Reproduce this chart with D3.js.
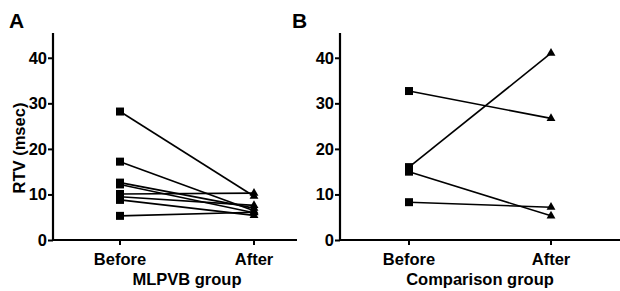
<!DOCTYPE html>
<html>
<head>
<style>
body { margin: 0; background: #fff; }
text { font-family: "Liberation Sans", Arial, sans-serif; font-weight: bold; }
.axis .domain { display: none; }
</style>
</head>
<body>
<svg width="620" height="291"></svg>
<script src="https://d3js.org/d3.v7.min.js"></script>
<script>
var phases = ["Before", "After"];
var yTicks = [0, 10, 20, 30, 40];

// MLPVB group: before -> after (msec)
var mlpvbBefore = [28.2, 17.2, 12.6, 12.2, 10.1, 9.5, 8.8, 5.3];
var mlpvbAfter  = [9.6, 6.4, 7.0, 6.0, 10.3, 7.6, 5.4, 6.1];

// Comparison group
var compBefore = [32.7, 16.0, 15.0, 8.3];
var compAfter  = [26.7, 41.0, 5.3, 7.2];

var svg = d3.select("svg");

var panels = [
  {label: "A", title: "MLPVB group", before: mlpvbBefore, after: mlpvbAfter,
   axisX: 53, right: 297, px: [120, 254], labelX: 9},
  {label: "B", title: "Comparison group", before: compBefore, after: compAfter,
   axisX: 340, right: 620, px: [409, 551], labelX: 292}
];

var y = d3.scaleLinear().domain([0, 45]).range([240, 35]);

panels.forEach(function(p) {
  var x = d3.scaleOrdinal().domain(phases).range(p.px);
  var g = svg.append("g");

  // axes
  g.append("g")
      .attr("class", "axis")
      .attr("transform", "translate(" + p.axisX + ",0)")
      .call(d3.axisLeft(y).tickValues(yTicks).tickSize(5).tickPadding(1))
      .call(function(a) {
        a.selectAll("line").attr("stroke-width", 2);
        a.selectAll("text").attr("font-size", 16.5).attr("fill", "#000");
      });
  g.append("line")
      .attr("x1", p.axisX).attr("x2", p.axisX)
      .attr("y1", y(45) - 2).attr("y2", y(0))
      .attr("stroke", "#000").attr("stroke-width", 2.2);

  var xa = g.append("g")
      .attr("class", "axis")
      .attr("transform", "translate(0," + y(0) + ")");
  xa.append("line")
      .attr("x1", p.axisX - 1).attr("x2", p.right)
      .attr("stroke", "#000").attr("stroke-width", 2.2);
  phases.forEach(function(ph) {
    xa.append("line")
        .attr("x1", x(ph)).attr("x2", x(ph))
        .attr("y1", 0).attr("y2", 5)
        .attr("stroke", "#000").attr("stroke-width", 2);
    xa.append("text")
        .attr("x", x(ph)).attr("y", 25)
        .attr("text-anchor", "middle")
        .attr("font-size", 16.5)
        .text(ph);
  });

  g.append("text")
      .attr("x", (p.px[0] + p.px[1]) / 2)
      .attr("y", 285)
      .attr("text-anchor", "middle")
      .attr("font-size", 16.5)
      .text(p.title);

  g.append("text")
      .attr("x", p.labelX).attr("y", 28)
      .attr("font-size", 21)
      .text(p.label);

  // paired lines
  p.before.forEach(function(b, i) {
    g.append("line")
        .attr("x1", x("Before")).attr("y1", y(b))
        .attr("x2", x("After")).attr("y2", y(p.after[i]))
        .attr("stroke", "#000").attr("stroke-width", 1.6);
  });

  g.selectAll(".sq")
    .data(p.before)
    .enter().append("rect")
      .attr("x", x("Before") - 4)
      .attr("y", function(d) { return y(d) - 4; })
      .attr("width", 8).attr("height", 8)
      .attr("fill", "#000");

  var tri = d3.symbol().type(d3.symbolTriangle).size(34);
  g.selectAll(".tri")
    .data(p.after)
    .enter().append("path")
      .attr("d", tri)
      .attr("transform", function(d) { return "translate(" + x("After") + "," + y(d) + ")"; })
      .attr("fill", "#000");
});

svg.append("text")
    .attr("transform", "translate(25,148) rotate(-90)")
    .attr("text-anchor", "middle")
    .attr("font-size", 16.5)
    .text("RTV (msec)");
</script>
</body>
</html>
